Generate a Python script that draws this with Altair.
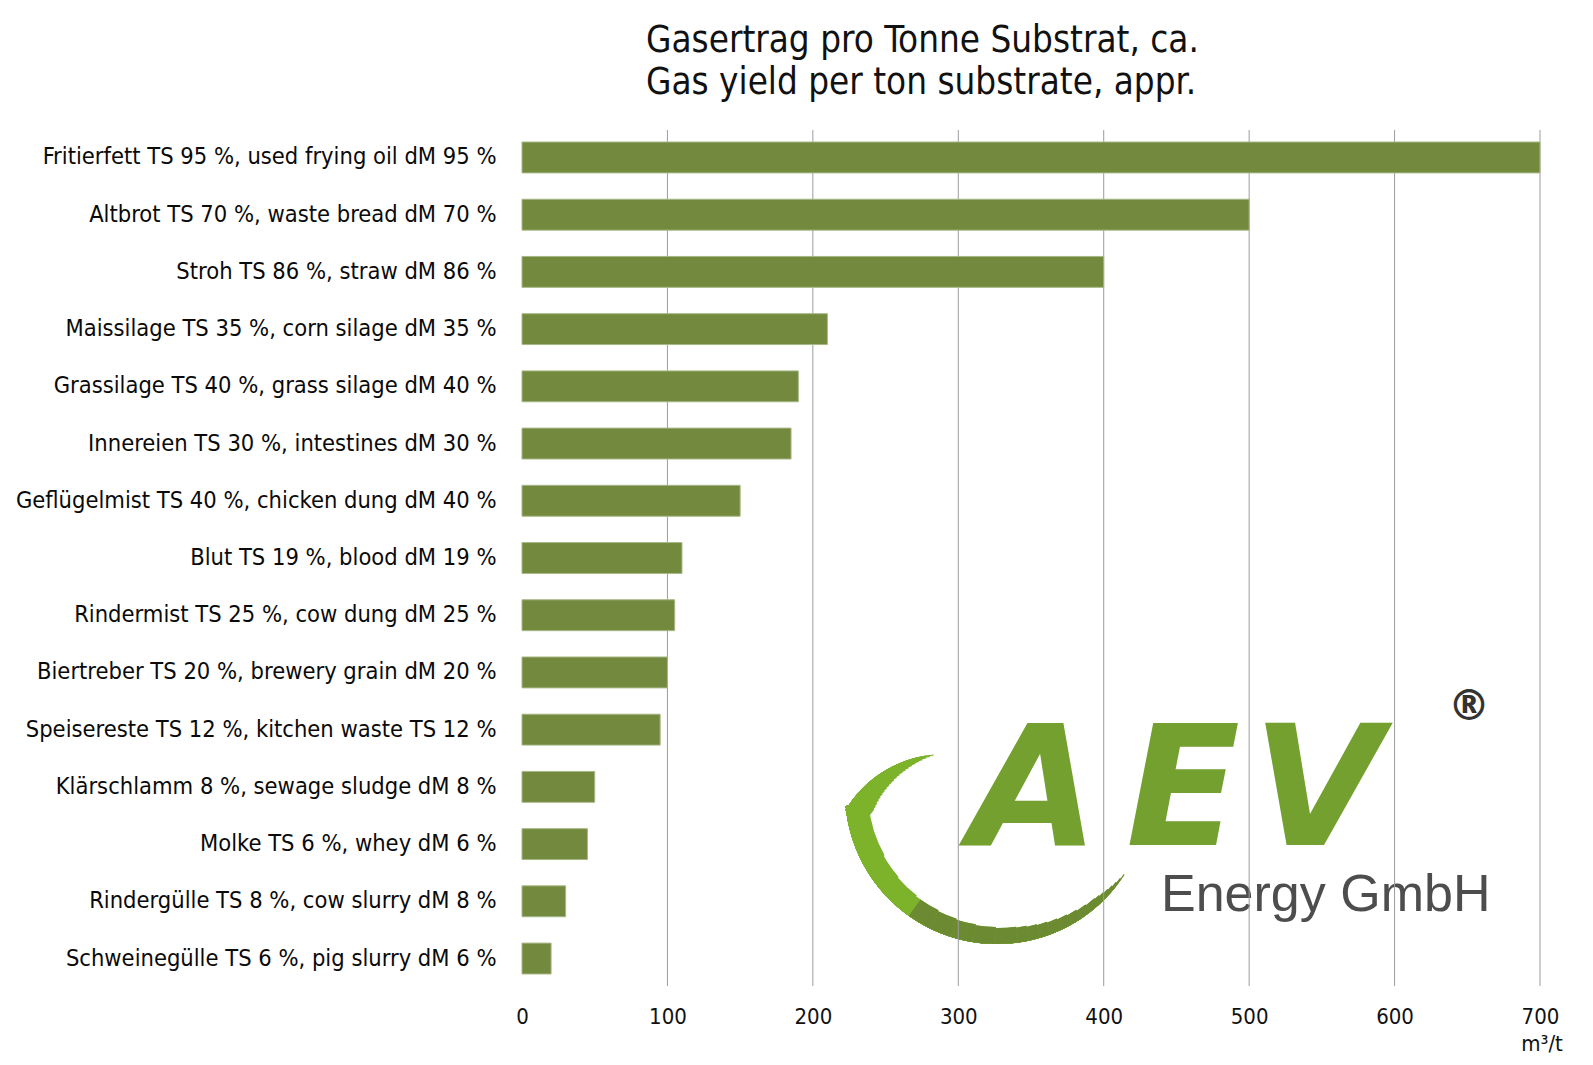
import altair as alt
import numpy as np
import pandas as pd

substrates = [
    "Fritierfett TS 95 %, used frying oil dM 95 %",
    "Altbrot TS 70 %, waste bread dM 70 %",
    "Stroh TS 86 %, straw dM 86 %",
    "Maissilage TS 35 %, corn silage dM 35 %",
    "Grassilage TS 40 %, grass silage dM 40 %",
    "Innereien TS 30 %, intestines dM 30 %",
    "Geflügelmist TS 40 %, chicken dung dM 40 %",
    "Blut TS 19 %, blood dM 19 %",
    "Rindermist TS 25 %, cow dung dM 25 %",
    "Biertreber TS 20 %, brewery grain dM 20 %",
    "Speisereste TS 12 %, kitchen waste TS 12 %",
    "Klärschlamm 8 %, sewage sludge dM 8 %",
    "Molke TS 6 %, whey dM 6 %",
    "Rindergülle TS 8 %, cow slurry dM 8 %",
    "Schweinegülle TS 6 %, pig slurry dM 6 %",
]
yields = [700, 500, 400, 210, 190, 185, 150, 110, 105, 100, 95, 50, 45, 30, 20]
tick_values = [0, 100, 200, 300, 400, 500, 600, 700]
grid_values = [100, 200, 300, 400, 500, 600, 700]
title_lines = ["Gasertrag pro Tonne Substrat, ca.", "Gas yield per ton substrate, appr."]
unit_label = "m³/t"
logo_letters = ["A", "E", "V"]
logo_sub = "Energy GmbH"

FONT = "DejaVu Sans Condensed"
W, H = 1018, 856

df = pd.DataFrame({"substrate": substrates, "yield": yields})
one = pd.DataFrame({"a": [0]})

xscale = alt.Scale(domain=[0, 700], nice=False, zero=True)
xaxis = alt.Axis(values=tick_values, title=None, grid=False, domain=False, ticks=False,
                 labelPadding=20, labelFontSize=22, labelFont=FONT, labelColor="#111111",
                 labelFlush=False, format="d")

grid = alt.Chart(pd.DataFrame({"v": grid_values})).mark_rule(color="#9c9c9c", strokeWidth=1).encode(
    x=alt.X("v:Q", scale=xscale, axis=xaxis),
    y=alt.value(0), y2=alt.value(H),
)

bars = alt.Chart(df).mark_bar(color="#738a3e", stroke="#a7b786", strokeWidth=1).encode(
    x=alt.X("yield:Q", scale=xscale, axis=xaxis),
    y=alt.Y("substrate:N", sort=substrates,
            scale=alt.Scale(paddingInner=0.46, paddingOuter=0.21),
            axis=alt.Axis(title=None, domain=False, ticks=False, labelPadding=26,
                          labelFont=FONT, labelFontSize=23.5, labelColor="#0a0a0a",
                          labelLimit=700)),
)

def txt(text, x, y, size, **kw):
    return alt.Chart(one).mark_text(text=text, fontSize=size, **kw).encode(
        x=alt.value(x), y=alt.value(y))

title1 = txt(title_lines[0], 124, -89, 36.5, font=FONT, align="left", baseline="middle", color="#111111")
title2 = txt(title_lines[1], 124, -47, 36.5, font=FONT, align="left", baseline="middle", color="#111111")
unit = txt(unit_label, 1020, 914, 22, font=FONT, align="center", baseline="middle", color="#111111")

# ---- logo swoosh (decorative): two tapered arcs (upper-left spiral part + lower part)
LIGHT, DARK = "#7cb32b", "#6b8a31"
UPPER_C, UPPER_R = (423, 740), 116
LOWER_C, LOWER_R = (475, 662), 152
UPPER_START = 5.25
LOWER_END = 4.62
upper_t, upper_theta = [0, 23], [6.22, 5.42]
lower_t, lower_theta = [0, 8, 16, 20, 23], [2.11, 2.40, 3.00, 3.60, 4.20]
DARK_TO = 3.76

def arc(center, r, t1, t2, thick, color):
    return alt.Chart(one).mark_arc(theta=t1, theta2=t2, radius=r, radius2=r - thick, color=color).encode(
        x=alt.value(center[0]), y=alt.value(center[1]))

swoosh = []
for t in range(1, 24):
    end = float(np.interp(t, upper_t, upper_theta))
    swoosh.append(arc(UPPER_C, UPPER_R, UPPER_START, end, t, LIGHT))
for t in range(1, 24):
    start = float(np.interp(t, lower_t, lower_theta))
    swoosh.append(arc(LOWER_C, LOWER_R, start, LOWER_END, t, LIGHT))
    if start < DARK_TO:
        swoosh.append(arc(LOWER_C, LOWER_R, start, DARK_TO, t, DARK))

letter_x = [512, 661, 795]
logo = [txt(l, x, 715, 167, font="DejaVu Sans", fontWeight="bold", fontStyle="italic",
            align="center", baseline="alphabetic", color="#74a02f")
        for l, x in zip(logo_letters, letter_x)]
logoSub = txt(logo_sub, 639, 781, 52, font="Liberation Sans", align="left", baseline="alphabetic",
              color="#4d4d4d")
reg = txt("®", 947, 577, 42, font="DejaVu Sans", fontWeight="bold", align="center", baseline="middle",
          color="#333333")

chart = alt.layer(*swoosh, *logo, logoSub, reg, grid, bars,
                  title1, title2, unit).properties(
    width=W, height=H,
    autosize=alt.AutoSizeParams(type="none"),
    padding={"left": 514, "top": 122, "right": 40, "bottom": 70},
    background="#ffffff",
).configure_view(strokeWidth=0)

chart.save("out.html", embed_options={"renderer": "svg", "actions": False})
